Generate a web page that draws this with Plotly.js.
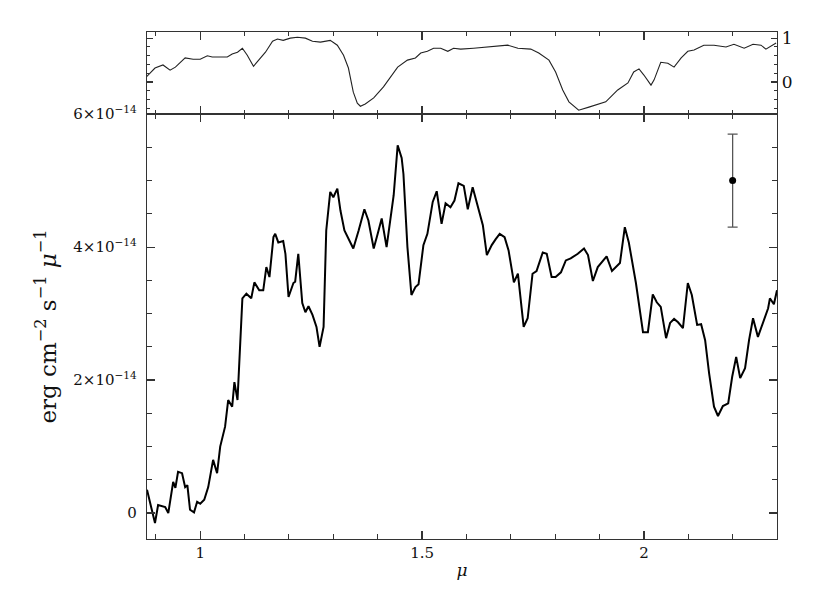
<!DOCTYPE html>
<html>
<head>
<meta charset="utf-8">
<script src="https://cdn.plot.ly/plotly-3.0.1.min.js"></script>
<style>
  html, body { margin: 0; padding: 0; background: #fff; }
  #plot { width: 830px; height: 589px; }
</style>
</head>
<body>
<div id="plot"></div>
<script>
//
// Spectrum (flux in units of 1e-14 erg/cm2/s/micron) with the
// atmospheric transmission shown in a thin panel above it.
//

// main spectrum
const wave = [0.880, 0.898, 0.905, 0.921, 0.928, 0.939, 0.944, 0.950, 0.959, 0.966,
              0.971, 0.977, 0.986, 0.993, 1.000, 1.009, 1.018, 1.029, 1.038, 1.045,
              1.056, 1.063, 1.072, 1.077, 1.084, 1.090, 1.095, 1.104, 1.115, 1.122,
              1.133, 1.142, 1.149, 1.156, 1.165, 1.169, 1.176, 1.187, 1.192, 1.199,
              1.210, 1.214, 1.221, 1.230, 1.237, 1.244, 1.253, 1.262, 1.269, 1.278,
              1.284, 1.293, 1.300, 1.309, 1.316, 1.325, 1.334, 1.345, 1.357, 1.370,
              1.379, 1.391, 1.400, 1.409, 1.420, 1.429, 1.436, 1.445, 1.454, 1.458,
              1.467, 1.476, 1.485, 1.492, 1.503, 1.512, 1.524, 1.533, 1.544, 1.553,
              1.564, 1.573, 1.582, 1.594, 1.603, 1.614, 1.625, 1.637, 1.646, 1.657,
              1.666, 1.675, 1.686, 1.695, 1.707, 1.716, 1.729, 1.738, 1.749, 1.758,
              1.772, 1.781, 1.792, 1.801, 1.813, 1.824, 1.835, 1.851, 1.865, 1.874,
              1.885, 1.896, 1.916, 1.928, 1.946, 1.957, 1.966, 1.982, 1.998, 2.009,
              2.020, 2.029, 2.038, 2.050, 2.059, 2.068, 2.077, 2.088, 2.099, 2.108,
              2.120, 2.129, 2.138, 2.147, 2.158, 2.167, 2.178, 2.190, 2.199, 2.208,
              2.217, 2.228, 2.237, 2.246, 2.257, 2.269, 2.280, 2.284, 2.293, 2.300];

const flux = [0.35, -0.15, 0.12, 0.09, 0.00, 0.47, 0.38, 0.62, 0.60, 0.39,
              0.42, 0.05, 0.01, 0.17, 0.14, 0.20, 0.39, 0.80, 0.60, 1.00,
              1.30, 1.70, 1.60, 1.97, 1.70, 2.45, 3.23, 3.30, 3.23, 3.47,
              3.35, 3.35, 3.70, 3.55, 4.15, 4.20, 4.07, 4.09, 3.90, 3.25,
              3.46, 3.48, 3.90, 3.16, 3.02, 3.11, 2.98, 2.80, 2.50, 2.80,
              4.25, 4.83, 4.75, 4.88, 4.55, 4.25, 4.13, 3.98, 4.25, 4.57,
              4.40, 3.98, 4.20, 4.43, 4.00, 4.45, 4.78, 5.53, 5.34, 5.10,
              4.00, 3.28, 3.40, 3.44, 4.03, 4.20, 4.68, 4.84, 4.35, 4.66,
              4.60, 4.70, 4.96, 4.92, 4.57, 4.90, 4.63, 4.33, 3.88, 4.03,
              4.12, 4.20, 4.15, 3.95, 3.47, 3.60, 2.80, 2.93, 3.60, 3.64,
              3.92, 3.90, 3.55, 3.55, 3.62, 3.80, 3.83, 3.90, 3.98, 3.88,
              3.49, 3.70, 3.86, 3.64, 3.76, 4.30, 4.07, 3.46, 2.72, 2.72,
              3.29, 3.17, 3.10, 2.63, 2.86, 2.92, 2.87, 2.78, 3.46, 3.28,
              2.83, 2.84, 2.60, 2.10, 1.60, 1.46, 1.61, 1.65, 2.05, 2.35,
              2.03, 2.18, 2.60, 2.93, 2.65, 2.86, 3.08, 3.23, 3.14, 3.35];

// atmospheric transmission (top panel)
const atmWave = [0.876, 0.883, 0.898, 0.916, 0.932, 0.944, 0.966, 0.984, 1.000, 1.016,
                 1.027, 1.045, 1.061, 1.072, 1.084, 1.095, 1.106, 1.120, 1.131, 1.147,
                 1.163, 1.174, 1.187, 1.203, 1.219, 1.237, 1.253, 1.271, 1.293, 1.309,
                 1.323, 1.334, 1.345, 1.354, 1.361, 1.372, 1.391, 1.413, 1.445, 1.467,
                 1.485, 1.497, 1.512, 1.526, 1.542, 1.558, 1.571, 1.587, 1.616, 1.655,
                 1.661, 1.693, 1.716, 1.745, 1.763, 1.786, 1.801, 1.817, 1.831, 1.853,
                 1.876, 1.898, 1.914, 1.941, 1.964, 1.977, 1.989, 2.000, 2.016, 2.023,
                 2.038, 2.054, 2.068, 2.084, 2.099, 2.113, 2.135, 2.158, 2.185, 2.203,
                 2.226, 2.246, 2.264, 2.275, 2.287, 2.298];

const atmTrans = [0.09, 0.16, 0.32, 0.39, 0.27, 0.34, 0.55, 0.52, 0.52, 0.60,
                  0.57, 0.57, 0.57, 0.64, 0.68, 0.77, 0.61, 0.36, 0.50, 0.68,
                  0.93, 0.98, 0.95, 1.00, 1.02, 1.00, 0.93, 0.91, 0.95, 0.84,
                  0.61, 0.32, -0.23, -0.48, -0.55, -0.50, -0.36, -0.11, 0.34, 0.50,
                  0.55, 0.66, 0.70, 0.77, 0.77, 0.70, 0.77, 0.75, 0.77, 0.80,
                  0.82, 0.84, 0.77, 0.75, 0.66, 0.50, 0.23, -0.18, -0.45, -0.64,
                  -0.57, -0.50, -0.45, -0.18, -0.02, 0.23, 0.30, 0.16, -0.07, 0.05,
                  0.45, 0.43, 0.34, 0.55, 0.70, 0.73, 0.84, 0.84, 0.80, 0.86,
                  0.77, 0.86, 0.84, 0.75, 0.82, 0.89];

// typical error bar
const errX = [2.2];
const errY = [5.0];
const errSize = [0.7];

// y tick labels for the main panel (units of 1e-14)
const fluxTicks = [0, 2, 4, 6];
const fluxTickText = ['0', '2×10<sup>−14</sup>', '4×10<sup>−14</sup>', '6×10<sup>−14</sup>'];
const atmTicks = [0, 1];
const atmTickText = ['0', '1'];

const serif = 'DejaVu Serif, Liberation Serif, serif';
const axcol = '#333';

const frame = {
    showline: true, linecolor: axcol, linewidth: 1.3,
    mirror: 'ticks', ticks: 'inside', tickcolor: axcol,
    ticklen: 8, tickwidth: 1.2,
    showgrid: false, zeroline: false
};

const data = [
    {x: wave, y: flux, xaxis: 'x', yaxis: 'y',
     mode: 'lines', type: 'scatter',
     line: {color: '#000', width: 2}},
    {x: atmWave, y: atmTrans, xaxis: 'x2', yaxis: 'y2',
     mode: 'lines', type: 'scatter',
     line: {color: '#222', width: 1.1}},
    {x: errX, y: errY, xaxis: 'x', yaxis: 'y',
     mode: 'markers', type: 'scatter',
     marker: {color: '#000', size: 7},
     error_y: {type: 'data', array: errSize, visible: true,
               color: '#555', thickness: 1.3, width: 5}}
];

const layout = {
    width: 830, height: 589,
    margin: {l: 147, r: 53, t: 32, b: 50},
    paper_bgcolor: '#fff', plot_bgcolor: '#fff',
    showlegend: false,
    font: {family: serif, size: 15, color: '#111'},
    xaxis: Object.assign({}, frame, {
        domain: [0, 1], anchor: 'y',
        range: [0.88, 2.30],
        tickvals: [1, 1.5, 2], ticktext: ['1', '1.5', '2'],
        minor: {dtick: 0.1, tick0: 0, ticks: 'inside', ticklen: 5,
                tickcolor: axcol, tickwidth: 1},
        title: {text: '<i>μ</i>', font: {family: serif, size: 17}, standoff: 2}
    }),
    yaxis: Object.assign({}, frame, {
        domain: [0, 0.838], anchor: 'x',
        range: [-0.39, 6.0],
        tickvals: fluxTicks, ticktext: fluxTickText,
        minor: {dtick: 0.5, tick0: 0, ticks: 'inside', ticklen: 5,
                tickcolor: axcol, tickwidth: 1},
        ticklabelstandoff: 6,
        title: {text: 'erg cm<sup>−2</sup> s<sup>−1</sup> <i>μ</i><sup>−1</sup>',
                font: {family: serif, size: 23}, standoff: 10}
    }),
    xaxis2: Object.assign({}, frame, {
        domain: [0, 1], anchor: 'y2', matches: 'x',
        showticklabels: false, linewidth: 1,
        tickvals: [1, 1.5, 2],
        minor: {dtick: 0.1, tick0: 0, ticks: 'inside', ticklen: 4,
                tickcolor: axcol, tickwidth: 1}
    }),
    yaxis2: Object.assign({}, frame, {
        domain: [0.838, 1], anchor: 'x2', side: 'right',
        range: [-0.73, 1.14],
        tickvals: atmTicks, ticktext: atmTickText,
        tickfont: {family: serif, size: 17},
        ticklen: 6,
        minor: {dtick: 0.2, tick0: 0, ticks: 'inside', ticklen: 3,
                tickcolor: axcol, tickwidth: 1}
    })
};

Plotly.newPlot('plot', data, layout, {displayModeBar: false, staticPlot: true});
</script>
</body>
</html>
